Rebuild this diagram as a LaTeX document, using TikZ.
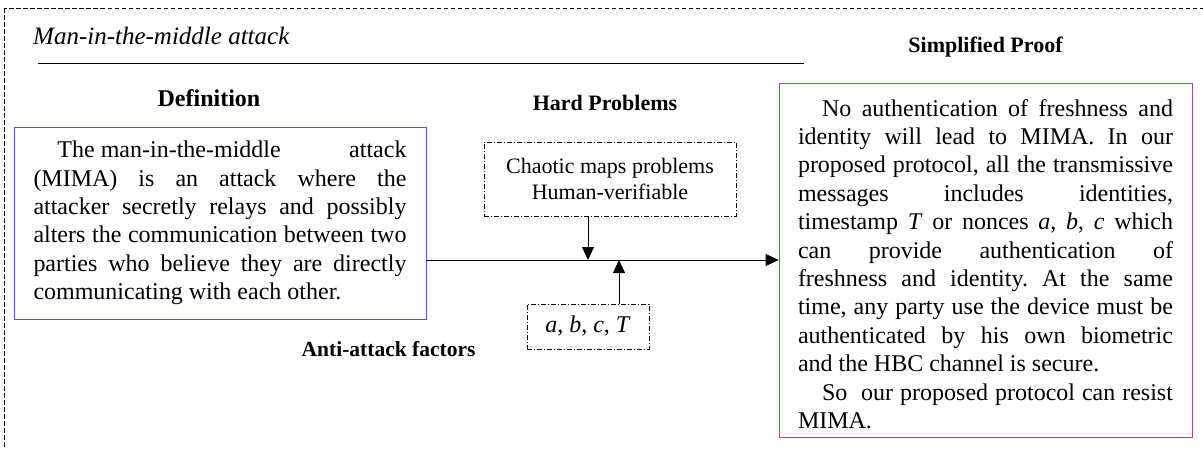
\documentclass[tikz,border=0pt]{standalone}
\usepackage{fontspec}
\setmainfont{Liberation Serif}
\usetikzlibrary{positioning,arrows.meta}
\definecolor{defblue}{RGB}{80,80,250}
\definecolor{proofpurple}{RGB}{160,70,175}
\frenchspacing

\newcommand{\boxpar}[2]{\parbox{#1}{\fontsize{24}{28.4}\selectfont
	\setlength{\parindent}{24pt}\hyphenpenalty=10000 \exhyphenpenalty=10000
	\tolerance=10000 #2}}

\begin{document}
\begin{tikzpicture} [
	x=1pt, y=-1pt,
	every node/.style = {inner sep=0pt},
	head/.style = {font=\fontsize{22}{26}\selectfont\bfseries},
	textbox/.style = {draw, line width=0.8pt},
	dashbox/.style = {draw, line width=0.7pt, dash pattern=on 5pt off 2pt on 1pt off 2pt},
	arr/.style = {draw, line width=0.8pt, -{Triangle[length=13pt,width=12pt]}}
]

\useasboundingbox (0,0) rectangle (1203,448);
\clip (0,0) rectangle (1203,448);
\draw[line width=0.8pt, dash pattern=on 4.5pt off 2.5pt] (4,8) rectangle (1220,470);

\node (title) [anchor=west, font=\fontsize{25}{30}\selectfont\itshape] at (33,36) {Man-in-the-middle attack};
\draw[line width=0.8pt] (38,63) -- (804,63);

\node (defbox) [textbox, draw=defblue, minimum width=412pt, minimum height=192pt] at (220,223) {\boxpar{373pt}{%
The man-in-the-middle\hfill attack\linebreak
(MIMA) is an attack where the\linebreak
attacker secretly relays and possibly\linebreak
alters the communication between two\linebreak
parties who believe they are directly\linebreak
communicating with each other.}};
\node (deftitle) [head, font=\fontsize{24}{28}\selectfont\bfseries, above=20pt of defbox, xshift=-11pt] {Definition};

\node (hardbox) [dashbox, minimum width=252pt, minimum height=74pt, align=center,
	font=\fontsize{22}{26}\selectfont] at (610,179) {Chaotic maps problems\\Human-verifiable};
\node (hardtitle) [head, above=31pt of hardbox, xshift=-5pt] {Hard Problems};

\node (abcbox) [dashbox, minimum width=122pt, minimum height=45pt,
	font=\fontsize{24}{28}\selectfont] at (588,326.5) {\textit{a}, \textit{b}, \textit{c}, \textit{T}};
\node (antilabel) [head, font=\fontsize{21.5}{26}\selectfont\bfseries, left=51pt of abcbox.south west] {Anti-attack factors};

\node (proofbox) [textbox, draw=proofpurple, minimum width=413pt, minimum height=354pt] at (985.5,260) {\raisebox{-4pt}[\height][\depth]{\boxpar{375pt}{%
No authentication of freshness and\linebreak
identity will lead to MIMA. In our\linebreak
proposed protocol, all the transmissive\linebreak
messages includes identities,\linebreak
timestamp \textit{T} or nonces \textit{a}, \textit{b}, \textit{c} which\linebreak
can provide authentication of\linebreak
freshness and identity. At the same\linebreak
time, any party use the device must be\linebreak
authenticated by his own biometric\linebreak
and the HBC channel is secure.\par
So\ \ our proposed protocol can resist\linebreak
MIMA.}}};
\node (prooftitle) [head, above=25pt of proofbox] {Simplified Proof};

\draw[arr] (defbox.east |- proofbox.west) -- (proofbox.west);
\draw[arr] (hardbox.south -| abcbox.north) -- (abcbox.north |- proofbox.west);
\draw[arr] ([xshift=31pt]abcbox.north) -- ([xshift=31pt]abcbox.north |- proofbox.west);

\end{tikzpicture}
\end{document}
